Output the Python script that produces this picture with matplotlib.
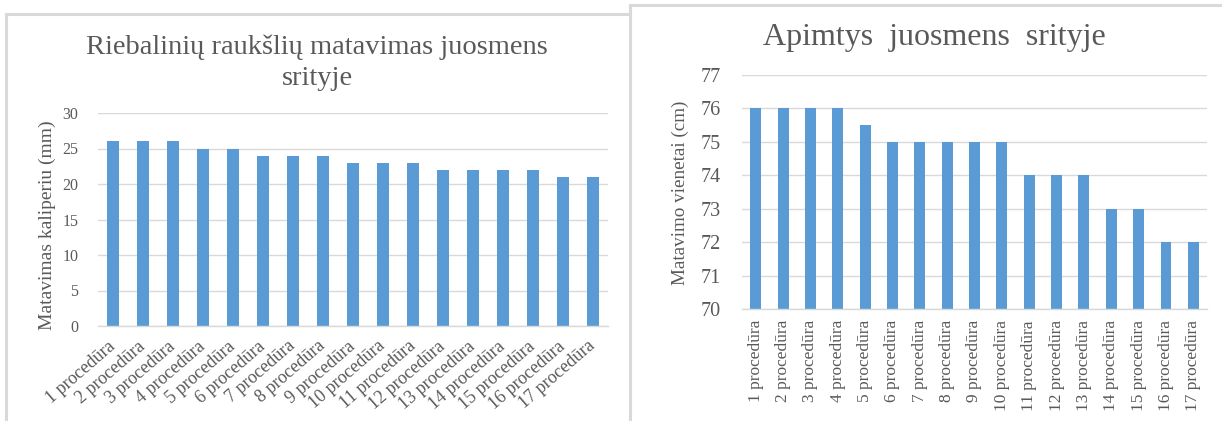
import matplotlib
matplotlib.use("Agg")
import matplotlib.pyplot as plt
from matplotlib.lines import Line2D

# Data
procedures = [f"{i} procedūra" for i in range(1, 18)]
skinfold_mm = [26, 26, 26, 25, 25, 24, 24, 24, 23, 23, 23, 22, 22, 22, 22, 21, 21]
waist_cm = [76, 76, 76, 76, 75.5, 75, 75, 75, 75, 75, 74, 74, 74, 73, 73, 72, 72]

left_title = "Riebalinių raukšlių matavimas juosmens\nsrityje"
left_ylabel = "Matavimas kaliperiu (mm)"
right_title = "Apimtys  juosmens  srityje"
right_ylabel = "Matavimo vienetai (cm)"

BAR = "#5B9BD5"
GRID = "#D9D9D9"
TEXT = "#595959"
FRAME = "#D9D9D9"

plt.rcParams["font.family"] = ["Liberation Serif", "DejaVu Serif"]

W, H = 1222, 421
fig = plt.figure(figsize=(W / 100, H / 100), dpi=100)


def fx(px):
    return px / W


def fy(py):
    return 1 - py / H


# Panel frames
frame_kw = dict(color=FRAME, lw=2.2, transform=fig.transFigure)
fig.add_artist(Line2D([fx(6), fx(6)], [fy(14), fy(421)], **frame_kw))
fig.add_artist(Line2D([fx(6), fx(630)], [fy(14), fy(14)], **frame_kw))
fig.add_artist(Line2D([fx(630), fx(630)], [fy(5), fy(421)], **frame_kw))
fig.add_artist(Line2D([fx(630), fx(1222)], [fy(5), fy(5)], **frame_kw))


def style_axes(ax, ymin, ymax, step, tick_size, tick_pad):
    ax.set_ylim(ymin, ymax)
    ax.set_yticks([ymin + k * step for k in range(int(round((ymax - ymin) / step)) + 1)])
    ax.set_xlim(-0.5, len(procedures) - 0.5)
    ax.grid(axis="y", color=GRID, lw=1.0)
    ax.set_axisbelow(True)
    for s in ["top", "right", "left"]:
        ax.spines[s].set_visible(False)
    ax.spines["bottom"].set_color(GRID)
    ax.spines["bottom"].set_linewidth(1.0)
    ax.tick_params(axis="both", length=0, colors=TEXT)
    ax.tick_params(axis="y", labelsize=tick_size, pad=tick_pad)


# Left chart: skinfold measurement
ax1 = fig.add_axes([fx(98), fy(326), fx(608) - fx(98), fy(113) - fy(326)])
ax1.bar(range(len(procedures)), skinfold_mm, width=0.38, color=BAR, zorder=2)
style_axes(ax1, 0, 30, 5, 11.5, 14)
ax1.set_xticks(range(len(procedures)))
ax1.set_xticklabels(procedures, rotation=41, ha="right", va="center",
                    rotation_mode="anchor", fontsize=13)
ax1.tick_params(axis="x", pad=13)
ax1.set_ylabel(left_ylabel, color=TEXT, fontsize=14)
ax1.yaxis.set_label_coords(fx(47), fy(225), transform=fig.transFigure)
ax1.yaxis.label.set_va("center")
fig.text(fx(317), fy(63), left_title, ha="center", va="center",
         color=TEXT, fontsize=20.5, linespacing=1.3)

# Right chart: waist circumference
ax2 = fig.add_axes([fx(742), fy(309), fx(1207) - fx(742), fy(75) - fy(309)])
ax2.bar(range(len(procedures)), waist_cm, width=0.4, color=BAR, zorder=2)
style_axes(ax2, 70, 77, 1, 14.5, 15)
ax2.set_xticks(range(len(procedures)))
ax2.set_xticklabels(procedures, rotation=90, ha="center", va="top", fontsize=12.5)
ax2.tick_params(axis="x", pad=8)
ax2.set_ylabel(right_ylabel, color=TEXT, fontsize=13.8)
ax2.yaxis.set_label_coords(fx(680), fy(193), transform=fig.transFigure)
ax2.yaxis.label.set_va("center")
fig.text(fx(934), fy(37), right_title, ha="center", va="center",
         color=TEXT, fontsize=23)

fig.savefig("out.png", dpi=100, facecolor="white")
